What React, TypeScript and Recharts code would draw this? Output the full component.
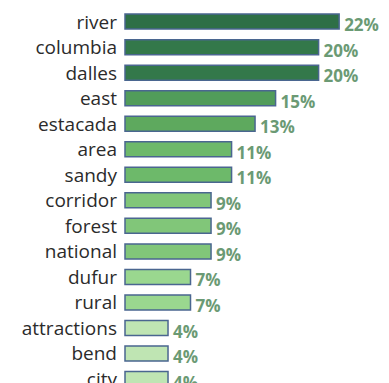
import React from "react";
import { BarChart, Bar, XAxis, YAxis, Cell, LabelList } from "recharts";

const categories = [
  "river", "columbia", "dalles", "east", "estacada", "area", "sandy",
  "corridor", "forest", "national", "dufur", "rural", "attractions", "bend", "city",
];
const shares = [21.9, 19.8, 19.8, 15.4, 13.3, 10.9, 10.9, 8.8, 8.8, 8.8, 6.7, 6.7, 4.4, 4.4, 4.4];
const labels = ["22%", "20%", "20%", "15%", "13%", "11%", "11%", "9%", "9%", "9%", "7%", "7%", "4%", "4%", "4%"];
const colors = [
  "#2e6f46", "#33784a", "#33784a", "#519c5a", "#5ea95e", "#6db96a", "#6db96a",
  "#81c679", "#81c679", "#81c679", "#9ad78f", "#9ad78f", "#bfe5b3", "#bfe5b3", "#bfe5b3",
];

const data = categories.map((c, i) => ({ name: c, value: shares[i], label: labels[i] }));

const renderLabel = (props: any) => {
  const { x, y, width, height, index } = props;
  return (
    <text
      x={Number(x) + Number(width) + 5}
      y={Number(y) + Number(height) / 2 + 3}
      fill="#6b9a74"
      fontFamily="'Open Sans', sans-serif"
      fontWeight={700}
      fontSize={17}
      dominantBaseline="central"
      textAnchor="start"
    >
      {labels[index]}
    </text>
  );
};

export default function App() {
  return (
    <BarChart
      width={381}
      height={384}
      data={data}
      layout="vertical"
      margin={{ top: 1, right: 0, bottom: 0, left: 0 }}
      barCategoryGap="20%"
    >
      <XAxis type="number" hide domain={[0, 27]} />
      <YAxis
        type="category"
        dataKey="name"
        width={117}
        axisLine={false}
        tickLine={false}
        interval={0}
        tick={{ fill: "#2b2b2b", fontSize: 19, fontFamily: "'Open Sans', sans-serif" }}
      />
      <Bar dataKey="value" stroke="#4a6690" strokeWidth={1.5} isAnimationActive={false}>
        {data.map((d, i) => (
          <Cell key={d.name} fill={colors[i]} />
        ))}
        <LabelList dataKey="label" content={renderLabel} />
      </Bar>
    </BarChart>
  );
}
